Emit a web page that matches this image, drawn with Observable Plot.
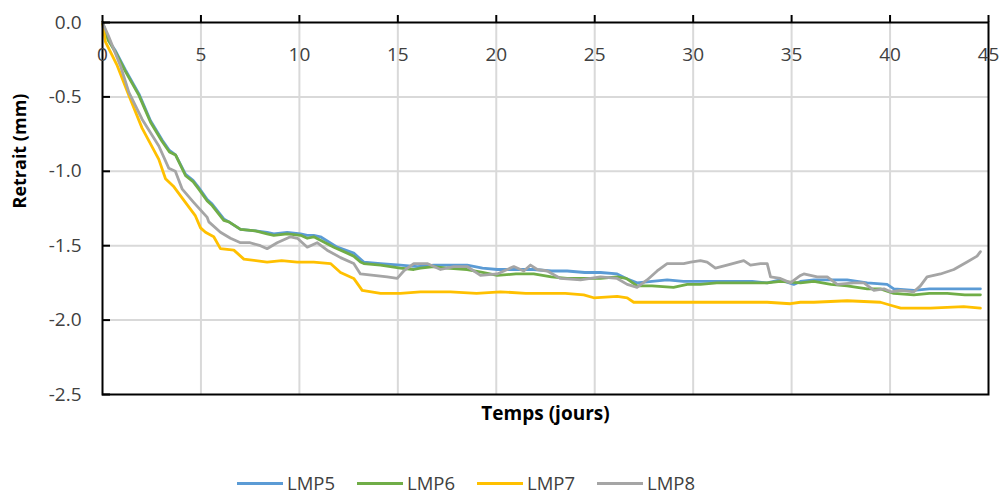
<!DOCTYPE html>
<html>
<head>
<meta charset="utf-8">
<script src="https://cdn.jsdelivr.net/npm/d3@7"></script>
<script src="https://cdn.jsdelivr.net/npm/@observablehq/plot@0.6"></script>
<style>
  body { margin: 0; background: #fff; font-family: "Open Sans", sans-serif; overflow: hidden; }
  #wrap { position: relative; width: 1000px; height: 493px; }
  #legend { position: relative; width: 1000px; height: 33px; }
  .item { position: absolute; top: 13px; height: 20px; line-height: 20px; display: flex; align-items: center; font-size: 18.5px; color: #404040; }
  .swatch { width: 46px; height: 3px; margin-right: 4px; }
</style>
</head>
<body>
<div id="wrap"><div id="chart"></div><div id="legend"></div></div>
<script>
const seriesNames = ["LMP5", "LMP6", "LMP7", "LMP8"];
const seriesColors = ["#5B9BD5", "#70AD47", "#FFC000", "#A5A5A5"];
const xTicks = [0, 5, 10, 15, 20, 25, 30, 35, 40, 45];
const yTicks = [0, -0.5, -1.0, -1.5, -2.0, -2.5];

// [jour, retrait mm]
const lmp5 = [[0,0],[0.3,-0.12],[0.66,-0.19],[1.17,-0.32],[1.85,-0.48],[2.44,-0.66],[3.03,-0.79],[3.4,-0.86],[3.71,-0.89],[4.22,-1.02],[4.6,-1.06],[4.89,-1.11],[5.32,-1.19],[5.57,-1.22],[6.16,-1.32],[6.42,-1.34],[7.01,-1.39],[7.77,-1.40],[8.36,-1.41],[8.7,-1.42],[9.38,-1.41],[10.06,-1.42],[10.4,-1.43],[10.73,-1.43],[11.07,-1.44],[11.92,-1.51],[12.76,-1.55],[13.27,-1.61],[14.12,-1.62],[15.13,-1.63],[16.0,-1.64],[16.83,-1.63],[17.5,-1.63],[18.52,-1.63],[19.3,-1.65],[20.05,-1.66],[21.0,-1.66],[21.9,-1.66],[22.8,-1.67],[23.6,-1.67],[24.5,-1.68],[25.29,-1.68],[26.14,-1.69],[26.6,-1.72],[27.15,-1.75],[27.91,-1.74],[28.68,-1.73],[29.5,-1.74],[30.37,-1.74],[31.2,-1.74],[32.06,-1.74],[33.0,-1.74],[33.76,-1.75],[34.43,-1.73],[35.11,-1.76],[35.45,-1.74],[36.13,-1.73],[37.0,-1.73],[37.82,-1.73],[38.84,-1.75],[39.85,-1.76],[40.19,-1.79],[41.21,-1.80],[42.0,-1.79],[42.9,-1.79],[43.8,-1.79],[44.59,-1.79]];

const lmp6 = [[0,0],[0.3,-0.12],[0.66,-0.20],[1.17,-0.33],[1.85,-0.49],[2.44,-0.67],[3.03,-0.80],[3.4,-0.87],[3.71,-0.89],[4.22,-1.03],[4.6,-1.07],[4.89,-1.12],[5.32,-1.20],[5.57,-1.23],[6.16,-1.33],[6.42,-1.34],[7.01,-1.39],[7.77,-1.40],[8.36,-1.42],[8.7,-1.43],[9.38,-1.42],[10.06,-1.43],[10.4,-1.45],[10.73,-1.44],[11.75,-1.51],[12.43,-1.55],[12.76,-1.57],[13.1,-1.61],[13.27,-1.62],[14.12,-1.63],[15.13,-1.65],[15.81,-1.66],[16.15,-1.65],[16.83,-1.64],[17.5,-1.65],[18.52,-1.66],[19.3,-1.68],[20.05,-1.70],[21.0,-1.69],[21.9,-1.69],[22.8,-1.71],[23.6,-1.72],[24.5,-1.72],[25.29,-1.72],[26.14,-1.71],[26.6,-1.72],[27.15,-1.77],[27.91,-1.77],[29.0,-1.78],[29.7,-1.76],[30.37,-1.76],[31.2,-1.75],[32.06,-1.75],[33.0,-1.75],[33.76,-1.75],[34.43,-1.74],[35.45,-1.75],[36.13,-1.74],[37.0,-1.76],[37.82,-1.77],[38.84,-1.79],[39.51,-1.79],[40.19,-1.82],[41.21,-1.83],[42.0,-1.82],[42.9,-1.82],[43.8,-1.83],[44.59,-1.83]];

const lmp7 = [[0,0],[0.15,-0.13],[0.75,-0.29],[1.34,-0.49],[2.01,-0.71],[2.86,-0.92],[3.2,-1.05],[3.6,-1.10],[4.05,-1.18],[4.72,-1.30],[4.98,-1.38],[5.23,-1.41],[5.65,-1.44],[5.99,-1.52],[6.67,-1.53],[7.18,-1.59],[8.36,-1.61],[9.1,-1.60],[9.89,-1.61],[10.73,-1.61],[11.58,-1.62],[12.09,-1.68],[12.76,-1.72],[13.19,-1.80],[14.12,-1.82],[15.13,-1.82],[16.15,-1.81],[17.67,-1.81],[19.0,-1.82],[20.21,-1.81],[21.5,-1.82],[22.75,-1.82],[23.5,-1.82],[24.44,-1.83],[24.95,-1.85],[26.14,-1.84],[26.65,-1.85],[26.98,-1.88],[28.68,-1.88],[30.37,-1.88],[32.06,-1.88],[33.76,-1.88],[34.94,-1.89],[35.45,-1.88],[36.13,-1.88],[37.82,-1.87],[39.51,-1.88],[40.03,-1.90],[40.54,-1.92],[42.05,-1.92],[43.74,-1.91],[44.59,-1.92]];

const lmp8 = [[0,0],[0.3,-0.09],[0.91,-0.29],[1.34,-0.47],[2.01,-0.65],[2.86,-0.83],[3.37,-0.98],[3.7,-1.00],[4.05,-1.12],[4.64,-1.21],[5.32,-1.31],[5.4,-1.34],[5.99,-1.41],[6.5,-1.45],[7.01,-1.48],[7.5,-1.48],[8.02,-1.50],[8.36,-1.52],[8.87,-1.48],[9.55,-1.44],[9.9,-1.45],[10.4,-1.51],[10.9,-1.48],[11.41,-1.53],[12.09,-1.58],[12.76,-1.62],[13.1,-1.69],[13.78,-1.70],[14.46,-1.71],[14.97,-1.72],[15.3,-1.67],[15.81,-1.62],[16.49,-1.62],[17.17,-1.66],[17.84,-1.64],[18.52,-1.64],[19.2,-1.70],[20.05,-1.69],[20.89,-1.64],[21.4,-1.67],[21.74,-1.63],[22.08,-1.66],[22.59,-1.67],[23.26,-1.72],[24.28,-1.73],[25.29,-1.71],[26.14,-1.72],[26.65,-1.76],[27.15,-1.78],[27.66,-1.73],[28.17,-1.67],[28.68,-1.62],[29.52,-1.62],[29.87,-1.61],[30.37,-1.60],[30.71,-1.61],[31.13,-1.65],[31.72,-1.63],[32.57,-1.60],[32.91,-1.63],[33.42,-1.62],[33.76,-1.62],[33.93,-1.71],[34.43,-1.72],[34.94,-1.75],[35.45,-1.70],[35.62,-1.69],[36.3,-1.71],[36.81,-1.71],[37.32,-1.76],[38.16,-1.75],[38.67,-1.75],[39.18,-1.80],[39.69,-1.79],[40.03,-1.81],[40.54,-1.80],[41.21,-1.81],[41.54,-1.77],[41.88,-1.71],[42.56,-1.69],[43.24,-1.66],[43.91,-1.61],[44.42,-1.57],[44.59,-1.54]];

const allSeries = [lmp5, lmp6, lmp7, lmp8];
const W = 1000, H = 460, ML = 102, MR = 12, MT = 22, MB = 66;
const textColor = "#404040";

const chart = Plot.plot({
  width: W, height: H,
  marginLeft: ML, marginRight: MR, marginTop: MT, marginBottom: MB,
  x: {domain: [0, 45], axis: null},
  y: {domain: [-2.5, 0], axis: null},
  style: {fontFamily: "'Open Sans', sans-serif", fontSize: "19px", color: textColor, background: "#fff"},
  marks: [
    Plot.gridX(xTicks.slice(1, -1), {stroke: "#d9d9d9", strokeOpacity: 1, strokeWidth: 2}),
    Plot.gridY(yTicks.slice(1, -1), {stroke: "#d9d9d9", strokeOpacity: 1, strokeWidth: 2}),
    ...allSeries.map((s, i) => Plot.line(s, {x: d => d[0], y: d => d[1], stroke: seriesColors[i], strokeWidth: 2.8, strokeLinejoin: "round"})),
    Plot.frame({stroke: "#000", strokeWidth: 2}),
    Plot.tickY(yTicks, {y: d => d, stroke: "#000", strokeWidth: 2, insetRight: W - ML - MR - 8}),
    Plot.tickX(xTicks, {x: d => d, stroke: "#000", strokeWidth: 2, insetTop: -7, insetBottom: H - MT - MB}),
    Plot.text(yTicks, {y: d => d, frameAnchor: "left", dx: -21, textAnchor: "end", text: d => d.toFixed(1), fill: textColor, fontSize: 19}),
    Plot.text(xTicks, {x: d => d, frameAnchor: "top", dy: 32, lineAnchor: "middle", text: d => String(d), fill: textColor, fontSize: 19}),
    Plot.text(["Retrait (mm)"], {frameAnchor: "left", dx: -82, rotate: -90, text: d => d, fontWeight: "bold", fontSize: 18, fill: "#000"}),
    Plot.text(["Temps (jours)"], {frameAnchor: "bottom", dy: 19, lineAnchor: "middle", text: d => d, fontWeight: "bold", fontSize: 19, fill: "#000"})
  ]
});
document.getElementById("chart").appendChild(chart);

const legend = document.getElementById("legend");
const legendLeft = [237, 357, 477, 597];
seriesNames.forEach((name, i) => {
  const item = document.createElement("div");
  item.className = "item";
  item.style.left = legendLeft[i] + "px";
  const sw = document.createElement("div");
  sw.className = "swatch";
  sw.style.background = seriesColors[i];
  const t = document.createElement("span");
  t.textContent = name;
  item.appendChild(sw);
  item.appendChild(t);
  legend.appendChild(item);
});
</script>
</body>
</html>
